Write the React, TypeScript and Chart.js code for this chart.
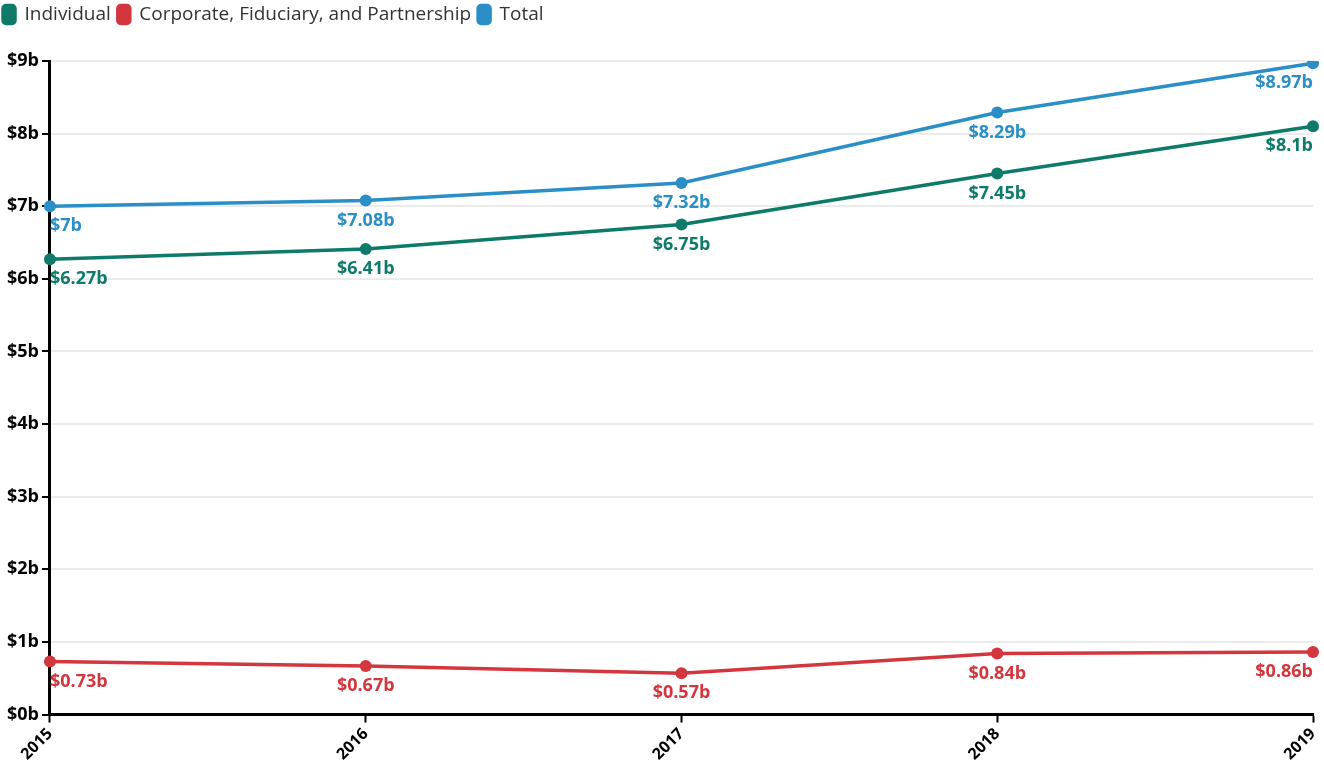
import React, { useEffect, useRef } from "react";
import { Chart, registerables } from "chart.js";

Chart.register(...registerables);

const years = ["2015", "2016", "2017", "2018", "2019"];
const individual = [6.27, 6.41, 6.75, 7.45, 8.1];
const corporate = [0.73, 0.67, 0.57, 0.84, 0.86];
const total = [7, 7.08, 7.32, 8.29, 8.97];
const yTicks = [0, 1, 2, 3, 4, 5, 6, 7, 8, 9];

const TEAL = "#0e7a6a";
const RED = "#d4363d";
const BLUE = "#2a8fc6";
const FONT = "'Open Sans', sans-serif";

const fmt = (v: number) => "$" + v + "b";

const legendSpace = {
  id: "legendSpace",
  beforeInit(chart: any) {
    const orig = chart.legend.fit;
    chart.legend.fit = function () {
      orig.call(this);
      this.height += 25;
    };
  },
  afterLayout(chart: any) {
    chart.legend.left -= 4;
    chart.legend.top -= 2;
  },
};

const labelPlugin = {
  id: "pointLabels",
  afterDatasetsDraw(chart: any) {
    const ctx = chart.ctx;
    ctx.save();
    ctx.font = "bold 18px " + FONT;
    ctx.textBaseline = "top";
    chart.data.datasets.forEach((ds: any, di: number) => {
      const meta = chart.getDatasetMeta(di);
      ctx.fillStyle = ds.borderColor;
      meta.data.forEach((pt: any, i: number) => {
        const n = meta.data.length;
        ctx.textAlign = i === 0 ? "left" : i === n - 1 ? "right" : "center";
        ctx.fillText(fmt(ds.data[i]), pt.x, pt.y + 11);
      });
    });
    ctx.restore();
  },
};

export default function App() {
  const ref = useRef<HTMLCanvasElement>(null);
  useEffect(() => {
    document.body.style.margin = "0";
    const mk = (label: string, data: number[], color: string) => ({
      label,
      data,
      borderColor: color,
      backgroundColor: color,
      borderWidth: 3.5,
      pointRadius: 6,
      pointBackgroundColor: color,
      pointBorderWidth: 0,
      tension: 0,
    });
    const chart = new Chart(ref.current!, {
      type: "line",
      data: {
        labels: years,
        datasets: [
          mk("Individual", individual, TEAL),
          mk("Corporate, Fiduciary, and Partnership", corporate, RED),
          mk("Total", total, BLUE),
        ],
      },
      options: {
        animation: false,
        responsive: false,
        layout: { padding: { left: 0, right: 0, top: 0, bottom: 3 } },
        plugins: {
          tooltip: { enabled: false },
          legend: {
            position: "top",
            align: "start",
            labels: {
              boxWidth: 12,
              boxHeight: 18,
              useBorderRadius: true,
              borderRadius: 3,
              padding: 7,
              color: "#333",
              font: { family: FONT, size: 19 },
            },
          },
        },
        scales: {
          x: {
            offset: false,
            afterFit: (s: any) => {
              s.paddingRight = 11;
            },
            grid: { drawOnChartArea: false, tickColor: "#000", tickLength: 8, tickWidth: 2 },
            border: { color: "#000", width: 3 },
            ticks: {
              color: "#000",
              maxRotation: 45,
              minRotation: 45,
              font: { family: FONT, size: 16, weight: "bold" },
              padding: 2,
            },
          },
          y: {
            min: 0,
            max: 9,
            afterBuildTicks: (s: any) => {
              s.ticks = yTicks.map((v) => ({ value: v }));
            },
            afterFit: (s: any) => {
              s.width += 4;
            },
            grid: { color: "#ebebeb", lineWidth: 2, tickColor: "#000", tickLength: 8, tickWidth: 2 },
            border: { color: "#000", width: 3 },
            ticks: {
              color: "#000",
              font: { family: FONT, size: 18, weight: "bold" },
              padding: 3,
              callback: (v: any) => "$" + v + "b",
            },
          },
        },
      },
      plugins: [legendSpace, labelPlugin],
    });
    return () => chart.destroy();
  }, []);
  return <canvas ref={ref} width={1324} height={769} style={{ display: "block" }} />;
}
